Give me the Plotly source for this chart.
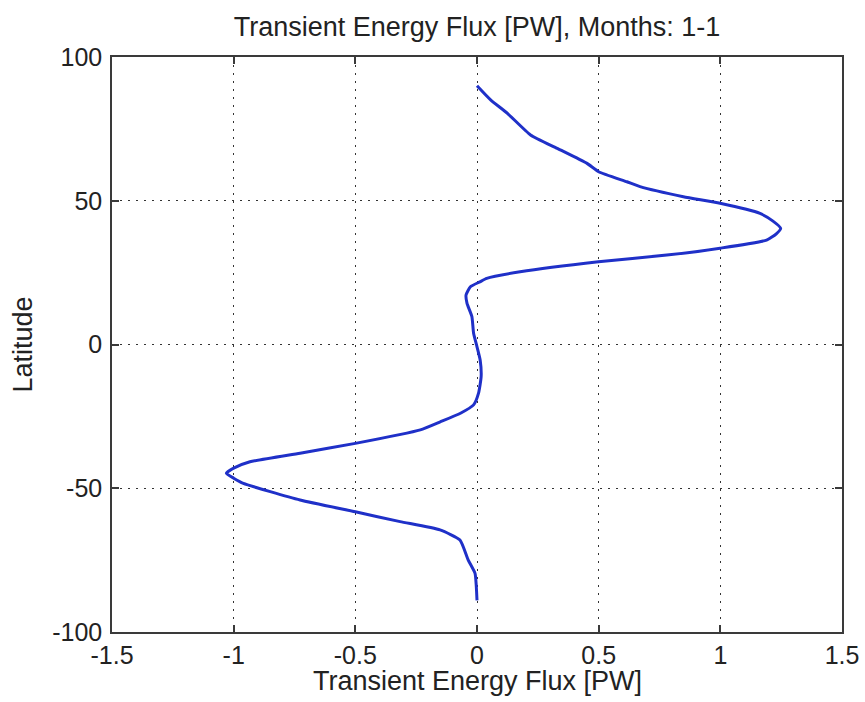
import plotly.graph_objects as go

latitude = [90, 85, 80.4, 72.9, 68.2, 63, 60.1, 56.6, 54.9, 51.4, 49.1, 45.6, 43.0, 40.4,
            38.5, 36.3, 33.5, 31.1, 28.8, 25.3, 23, 21.8, 20.1, 17.2, 14.3, 9.7, 3.9, -0.8,
            -5.4, -11.2, -17, -21, -23.9, -26.9, -29.7, -34.4, -37.8, -40.8, -43, -44.8,
            -46.5, -48.3, -54.1, -58.2, -61.6, -64.5, -68, -75, -79.6, -84, -89]
flux_pw = [0, 0.057, 0.125, 0.22, 0.33, 0.452, 0.5, 0.616, 0.67, 0.848, 0.999, 1.163, 1.215, 1.248,
           1.23, 1.19, 0.999, 0.78, 0.499, 0.177, 0.04, 0.012, -0.027, -0.045, -0.041, -0.021, -0.014, 0,
           0.013, 0.017, 0.006, -0.014, -0.068, -0.151, -0.233, -0.50, -0.727, -0.933, -1.0, -1.03,
           -1.0, -0.96, -0.727, -0.50, -0.316, -0.152, -0.07, -0.036, -0.008, -0.003, 0]

x_ticks = [-1.5, -1, -0.5, 0, 0.5, 1, 1.5]
x_tick_text = ["-1.5", "-1", "-0.5", "0", "0.5", "1", "1.5"]
y_ticks = [-100, -50, 0, 50, 100]
y_tick_text = ["-100", "-50", "0", "50", "100"]

FONT = "Liberation Sans, Arial, sans-serif"
TXT = "#222222"

fig = go.Figure()
fig.add_trace(go.Scatter(x=flux_pw, y=latitude, mode="lines",
                         line=dict(color="#1f30c8", width=3, shape="spline", smoothing=0.5),
                         showlegend=False))

axis_common = dict(
    showline=True, linecolor="#3a3a3a", linewidth=1.5, mirror="ticks",
    ticks="inside", ticklen=7, tickcolor="#3a3a3a", tickwidth=1.5,
    showgrid=True, gridcolor="#333333", griddash="2px,6px", gridwidth=1,
    zeroline=False, tickfont=dict(family=FONT, size=25, color=TXT),
    automargin=False,
)

fig.update_layout(
    width=865, height=702,
    margin=dict(l=112, r=23, t=57, b=70, autoexpand=False),
    paper_bgcolor="white", plot_bgcolor="white",
    title=dict(text="Transient Energy Flux [PW], Months: 1-1", x=0.5515, xanchor="center",
               y=1 - 27 / 702, yanchor="middle", yref="container", automargin=False,
               font=dict(family=FONT, size=27, color=TXT)),
    xaxis=dict(range=[-1.5, 1.5], tickvals=x_ticks, ticktext=x_tick_text,
               ticklabelstandoff=0, **axis_common),
    yaxis=dict(range=[-100, 100], tickvals=y_ticks, ticktext=y_tick_text,
               ticklabelstandoff=3, **axis_common),
    annotations=[
        dict(text="Transient Energy Flux [PW]", xref="paper", yref="paper",
             x=0.5, y=-49 / 575, xanchor="center", yanchor="middle", showarrow=False,
             font=dict(family=FONT, size=27, color=TXT)),
        dict(text="Latitude", xref="paper", yref="paper", textangle=-90,
             x=-(112 - 22) / 730, y=0.5, xanchor="center", yanchor="middle", showarrow=False,
             font=dict(family=FONT, size=27, color=TXT)),
    ],
)

fig.write_html("out.html", config={"displayModeBar": False},
               post_script="document.body.style.margin='0px';document.body.style.overflow='hidden';")
